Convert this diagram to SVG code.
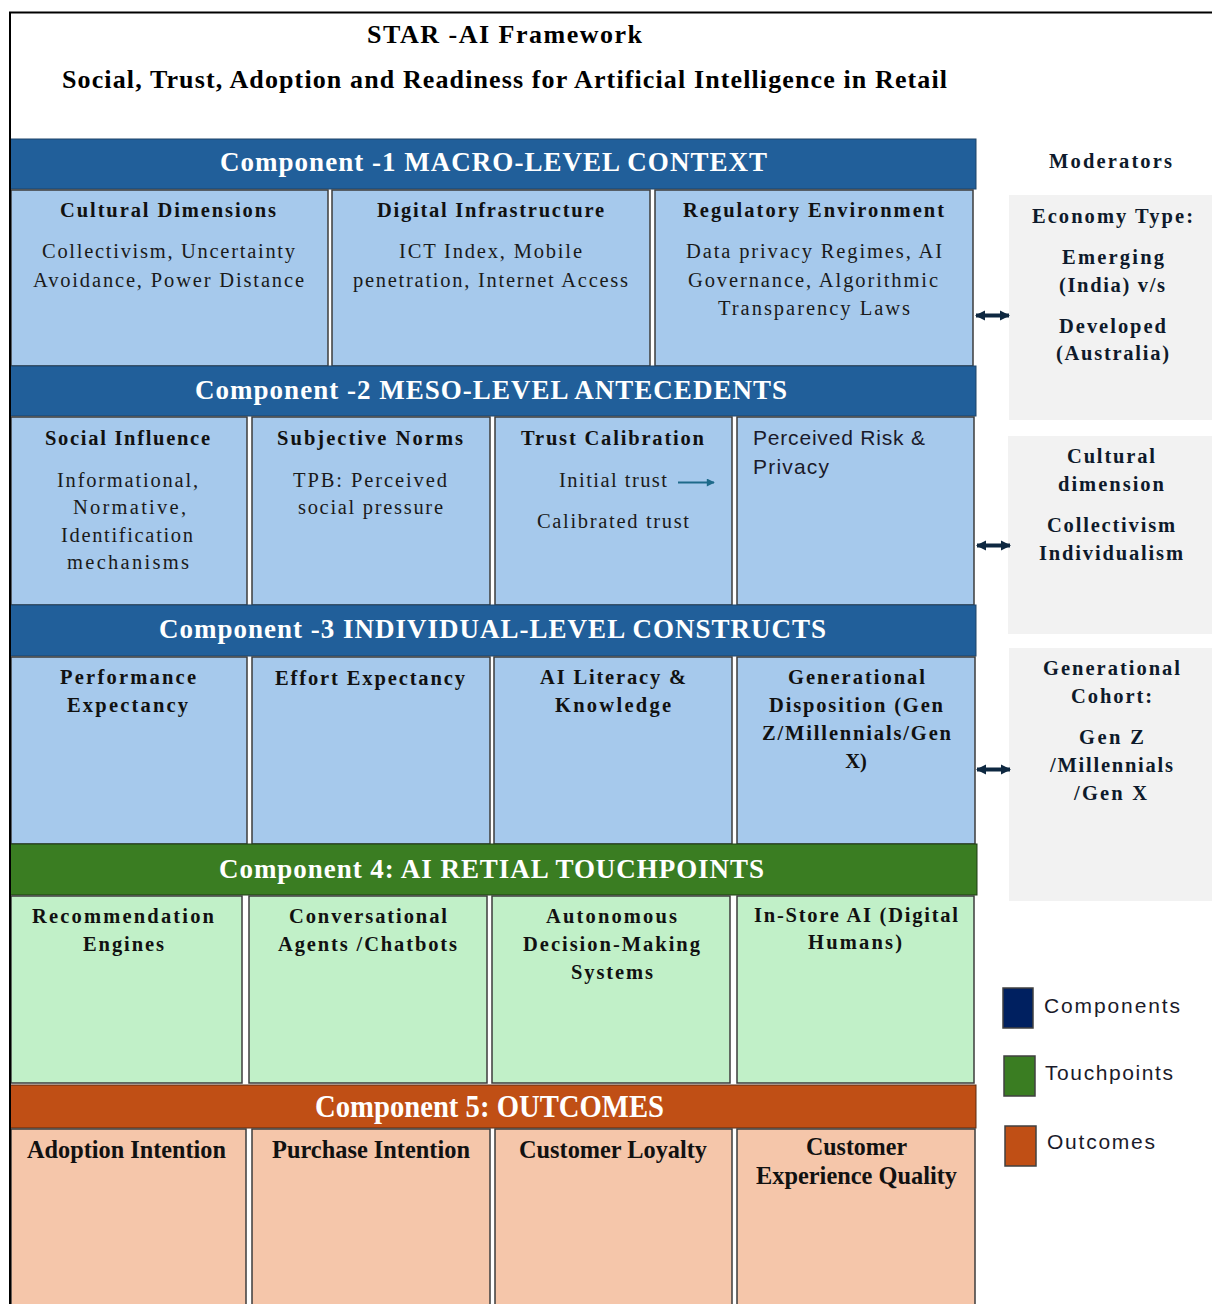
<svg xmlns="http://www.w3.org/2000/svg" width="1212" height="1304" viewBox="0 0 1212 1304">
  <defs>
    <style>
      .bg { fill: #ffffff; }
      .frame { fill: none; stroke: #000000; stroke-width: 2; }
      .hdr-blue { fill: #215F9A; stroke: #1F4468; stroke-width: 1; }
      .hdr-green { fill: #3A7D22; stroke: #1F3D14; stroke-width: 1; }
      .hdr-orange { fill: #C04F15; stroke: #5A2A10; stroke-width: 1; }
      .cell-blue { fill: #A6C9EC; stroke: #3C3C3C; stroke-width: 1.5; }
      .cell-green { fill: #C1F0C8; stroke: #3C3C3C; stroke-width: 1.5; }
      .cell-orange { fill: #F5C6AA; stroke: #3C3C3C; stroke-width: 1.5; }
      .mod-box { fill: #F2F2F2; }
      .title { font-family: "Liberation Serif", "Times New Roman", serif; font-weight: bold; font-size: 26px; fill: #000000; text-anchor: middle; }
      .hdr { font-family: "Liberation Serif", "Times New Roman", serif; font-weight: bold; font-size: 27px; fill: #ffffff; text-anchor: middle; }
      .hdr-narrow { font-family: "Liberation Serif", "Times New Roman", serif; font-weight: bold; font-size: 31px; fill: #ffffff; text-anchor: middle; }
      .head { font-family: "Liberation Serif", "Times New Roman", serif; font-weight: bold; font-size: 20.5px; fill: #111111; text-anchor: middle; }
      .body { font-family: "Liberation Serif", "Times New Roman", serif; font-size: 20.5px; fill: #1a1a1a; text-anchor: middle; }
      .narrow { font-family: "Liberation Serif", "Times New Roman", serif; font-weight: bold; font-size: 25px; fill: #111111; text-anchor: middle; }
      .sans { font-family: "Liberation Sans", Arial, sans-serif; font-size: 21px; fill: #1a1a2a; }
      .mod { font-family: "Liberation Serif", "Times New Roman", serif; font-weight: bold; font-size: 20.5px; fill: #0E1A2B; text-anchor: middle; }
      .link { fill: none; stroke: #0E2841; stroke-width: 4; }
      .trust-arrow { fill: none; stroke: #1E6A8A; stroke-width: 2; }
    </style>
    <marker id="head-dark" viewBox="0 0 10 10" refX="9" refY="5" markerWidth="10" markerHeight="12" markerUnits="userSpaceOnUse" orient="auto-start-reverse">
      <path d="M0,0 L10,5 L0,10 z" fill="#0E2841"/>
    </marker>
    <marker id="head-teal" viewBox="0 0 10 10" refX="9" refY="5" markerWidth="10" markerHeight="8" markerUnits="userSpaceOnUse" orient="auto">
      <path d="M0,0 L10,5 L0,10 z" fill="#1E6A8A"/>
    </marker>
  </defs>

  <rect class="bg" x="0" y="0" width="1212" height="1304"/>

  <!-- Title block -->
  <g id="title">
    <text class="title" x="504.5" y="43" textLength="275">STAR -AI Framework</text>
    <text class="title" x="504.5" y="88" textLength="885">Social, Trust, Adoption and Readiness for Artificial Intelligence in Retail</text>
  </g>

  <!-- Component 1 -->
  <g id="component-1">
    <rect class="hdr-blue" x="10" y="139" width="966" height="50"/>
    <text class="hdr" x="493.5" y="171" textLength="547">Component -1 MACRO-LEVEL CONTEXT</text>
  </g>
  <g id="cultural-dimensions">
    <rect class="cell-blue" x="11" y="190" width="317" height="176"/>
    <text class="head" x="168" y="217" textLength="216">Cultural Dimensions</text>
    <text class="body" x="168.5" y="258" textLength="253">Collectivism, Uncertainty</text>
    <text class="body" x="168.5" y="287" textLength="271">Avoidance, Power Distance</text>
  </g>
  <g id="digital-infrastructure">
    <rect class="cell-blue" x="332" y="190" width="318" height="176"/>
    <text class="head" x="490.5" y="217" textLength="227">Digital Infrastructure</text>
    <text class="body" x="490.5" y="258" textLength="183">ICT Index, Mobile</text>
    <text class="body" x="490.5" y="287" textLength="275">penetration, Internet Access</text>
  </g>
  <g id="regulatory-environment">
    <rect class="cell-blue" x="655" y="190" width="318" height="176"/>
    <text class="head" x="813.5" y="217" textLength="261">Regulatory Environment</text>
    <text class="body" x="814" y="258" textLength="256">Data privacy Regimes, AI</text>
    <text class="body" x="813" y="287" textLength="250">Governance, Algorithmic</text>
    <text class="body" x="814" y="315" textLength="192">Transparency Laws</text>
  </g>

  <!-- Component 2 -->
  <g id="component-2">
    <rect class="hdr-blue" x="10" y="366" width="966" height="50"/>
    <text class="hdr" x="491" y="399" textLength="592">Component -2 MESO-LEVEL ANTECEDENTS</text>
  </g>
  <g id="social-influence">
    <rect class="cell-blue" x="11" y="417" width="236" height="188"/>
    <text class="head" x="127.5" y="445" textLength="165">Social Influence</text>
    <text class="body" x="127.5" y="487" textLength="141">Informational,</text>
    <text class="body" x="129.5" y="514" textLength="113">Normative,</text>
    <text class="body" x="127" y="542" textLength="132">Identification</text>
    <text class="body" x="128" y="569" textLength="122">mechanisms</text>
  </g>
  <g id="subjective-norms">
    <rect class="cell-blue" x="252" y="417" width="238" height="188"/>
    <text class="head" x="370" y="445" textLength="186">Subjective Norms</text>
    <text class="body" x="370" y="487" textLength="154">TPB: Perceived</text>
    <text class="body" x="370.5" y="514" textLength="145">social pressure</text>
  </g>
  <g id="trust-calibration">
    <rect class="cell-blue" x="495" y="417" width="237" height="188"/>
    <text class="head" x="612.5" y="445" textLength="183">Trust Calibration</text>
    <text class="body" x="613" y="487" textLength="108">Initial trust</text>
    <line class="trust-arrow" x1="678" y1="482.5" x2="714" y2="482.5" marker-end="url(#head-teal)"/>
    <text class="body" x="613" y="528" textLength="152">Calibrated trust</text>
  </g>
  <g id="perceived-risk">
    <rect class="cell-blue" x="737" y="417" width="237" height="188"/>
    <text class="sans" x="753" y="445" textLength="172">Perceived Risk &amp;</text>
    <text class="sans" x="753" y="474" textLength="76">Privacy</text>
  </g>

  <!-- Component 3 -->
  <g id="component-3">
    <rect class="hdr-blue" x="10" y="605" width="966" height="51"/>
    <text class="hdr" x="492.5" y="638" textLength="667">Component -3 INDIVIDUAL-LEVEL CONSTRUCTS</text>
  </g>
  <g id="performance-expectancy">
    <rect class="cell-blue" x="11" y="657" width="236" height="187"/>
    <text class="head" x="128" y="684" textLength="136">Performance</text>
    <text class="head" x="127.5" y="712" textLength="121">Expectancy</text>
  </g>
  <g id="effort-expectancy">
    <rect class="cell-blue" x="252" y="657" width="238" height="187"/>
    <text class="head" x="370" y="685" textLength="190">Effort Expectancy</text>
  </g>
  <g id="ai-literacy">
    <rect class="cell-blue" x="494" y="657" width="238" height="187"/>
    <text class="head" x="613" y="684" textLength="146">AI Literacy &amp;</text>
    <text class="head" x="613" y="712" textLength="116">Knowledge</text>
  </g>
  <g id="generational-disposition">
    <rect class="cell-blue" x="737" y="657" width="238" height="187"/>
    <text class="head" x="856.5" y="684" textLength="137">Generational</text>
    <text class="head" x="856" y="712" textLength="174">Disposition (Gen</text>
    <text class="head" x="856.5" y="740" textLength="189">Z/Millennials/Gen</text>
    <text class="head" x="856" y="768">X)</text>
  </g>

  <!-- Component 4 -->
  <g id="component-4">
    <rect class="hdr-green" x="10" y="844" width="967" height="51"/>
    <text class="hdr" x="491.5" y="878" textLength="545">Component 4: AI RETIAL TOUCHPOINTS</text>
  </g>
  <g id="recommendation-engines">
    <rect class="cell-green" x="11" y="896" width="231" height="187"/>
    <text class="head" x="123" y="923" textLength="182">Recommendation</text>
    <text class="head" x="123.5" y="951" textLength="81">Engines</text>
  </g>
  <g id="conversational-agents">
    <rect class="cell-green" x="249" y="896" width="238" height="187"/>
    <text class="head" x="368" y="923" textLength="158">Conversational</text>
    <text class="head" x="367.5" y="951" textLength="179">Agents /Chatbots</text>
  </g>
  <g id="autonomous-systems">
    <rect class="cell-green" x="492" y="896" width="238" height="187"/>
    <text class="head" x="611.5" y="923" textLength="131">Autonomous</text>
    <text class="head" x="611.5" y="951" textLength="177">Decision-Making</text>
    <text class="head" x="612" y="979" textLength="82">Systems</text>
  </g>
  <g id="in-store-ai">
    <rect class="cell-green" x="737" y="896" width="237" height="187"/>
    <text class="head" x="856" y="922" textLength="204">In-Store AI (Digital</text>
    <text class="head" x="855" y="949" textLength="94">Humans)</text>
  </g>

  <!-- Component 5 -->
  <g id="component-5">
    <rect class="hdr-orange" x="10" y="1085" width="966" height="43"/>
    <text class="hdr-narrow" x="489.5" y="1117" textLength="349" lengthAdjust="spacingAndGlyphs">Component 5: OUTCOMES</text>
  </g>
  <g id="adoption-intention">
    <rect class="cell-orange" x="11" y="1129" width="235" height="180"/>
    <text class="narrow" x="126.5" y="1158" textLength="199" lengthAdjust="spacingAndGlyphs">Adoption Intention</text>
  </g>
  <g id="purchase-intention">
    <rect class="cell-orange" x="252" y="1129" width="238" height="180"/>
    <text class="narrow" x="371" y="1158" textLength="198" lengthAdjust="spacingAndGlyphs">Purchase Intention</text>
  </g>
  <g id="customer-loyalty">
    <rect class="cell-orange" x="495" y="1129" width="237" height="180"/>
    <text class="narrow" x="613" y="1158" textLength="188" lengthAdjust="spacingAndGlyphs">Customer Loyalty</text>
  </g>
  <g id="experience-quality">
    <rect class="cell-orange" x="737" y="1129" width="238" height="180"/>
    <text class="narrow" x="856.5" y="1155" textLength="101" lengthAdjust="spacingAndGlyphs">Customer</text>
    <text class="narrow" x="856.5" y="1184" textLength="201" lengthAdjust="spacingAndGlyphs">Experience Quality</text>
  </g>

  <!-- Moderators -->
  <g id="moderators-label">
    <text class="mod" x="1110.5" y="168" textLength="123">Moderators</text>
  </g>
  <g id="economy-type">
    <rect class="mod-box" x="1009" y="195" width="203" height="225"/>
    <text class="mod" x="1112.5" y="223" textLength="161">Economy Type:</text>
    <text class="mod" x="1113" y="264" textLength="102">Emerging</text>
    <text class="mod" x="1112" y="292" textLength="106">(India) v/s</text>
    <text class="mod" x="1112.5" y="333" textLength="107">Developed</text>
    <text class="mod" x="1112.5" y="360" textLength="113">(Australia)</text>
  </g>
  <g id="cultural-dimension-moderator">
    <rect class="mod-box" x="1008" y="436" width="204" height="198"/>
    <text class="mod" x="1111" y="463" textLength="88">Cultural</text>
    <text class="mod" x="1111" y="491" textLength="106">dimension</text>
    <text class="mod" x="1111" y="532" textLength="128">Collectivism</text>
    <text class="mod" x="1111" y="560" textLength="144">Individualism</text>
  </g>
  <g id="generational-cohort">
    <rect class="mod-box" x="1009" y="648" width="203" height="253"/>
    <text class="mod" x="1111.5" y="675" textLength="137">Generational</text>
    <text class="mod" x="1111.5" y="703" textLength="81">Cohort:</text>
    <text class="mod" x="1111.5" y="744" textLength="65">Gen Z</text>
    <text class="mod" x="1111.5" y="772" textLength="123">/Millennials</text>
    <text class="mod" x="1110.5" y="800" textLength="73">/Gen X</text>
  </g>

  <!-- Legend -->
  <g id="legend-components">
    <rect x="1003" y="988" width="30" height="40" fill="#002060" stroke="#404040" stroke-width="1.5"/>
    <text class="sans" x="1044" y="1013" textLength="136">Components</text>
  </g>
  <g id="legend-touchpoints">
    <rect x="1004" y="1056" width="31" height="40" fill="#3A7D22" stroke="#404040" stroke-width="1.5"/>
    <text class="sans" x="1045" y="1080" textLength="128">Touchpoints</text>
  </g>
  <g id="legend-outcomes">
    <rect x="1005" y="1126" width="31" height="40" fill="#C04F15" stroke="#404040" stroke-width="1.5"/>
    <text class="sans" x="1047" y="1149" textLength="108">Outcomes</text>
  </g>

  <!-- Moderator links -->
  <g id="connectors">
    <line class="link" x1="976" y1="315.5" x2="1009" y2="315.5" marker-start="url(#head-dark)" marker-end="url(#head-dark)"/>
    <line class="link" x1="977" y1="545.5" x2="1010" y2="545.5" marker-start="url(#head-dark)" marker-end="url(#head-dark)"/>
    <line class="link" x1="977" y1="769.5" x2="1010" y2="769.5" marker-start="url(#head-dark)" marker-end="url(#head-dark)"/>
  </g>

  <!-- Outer frame -->
  <path class="frame" d="M1212,12.5 L10,12.5 L10,1304"/>
</svg>
